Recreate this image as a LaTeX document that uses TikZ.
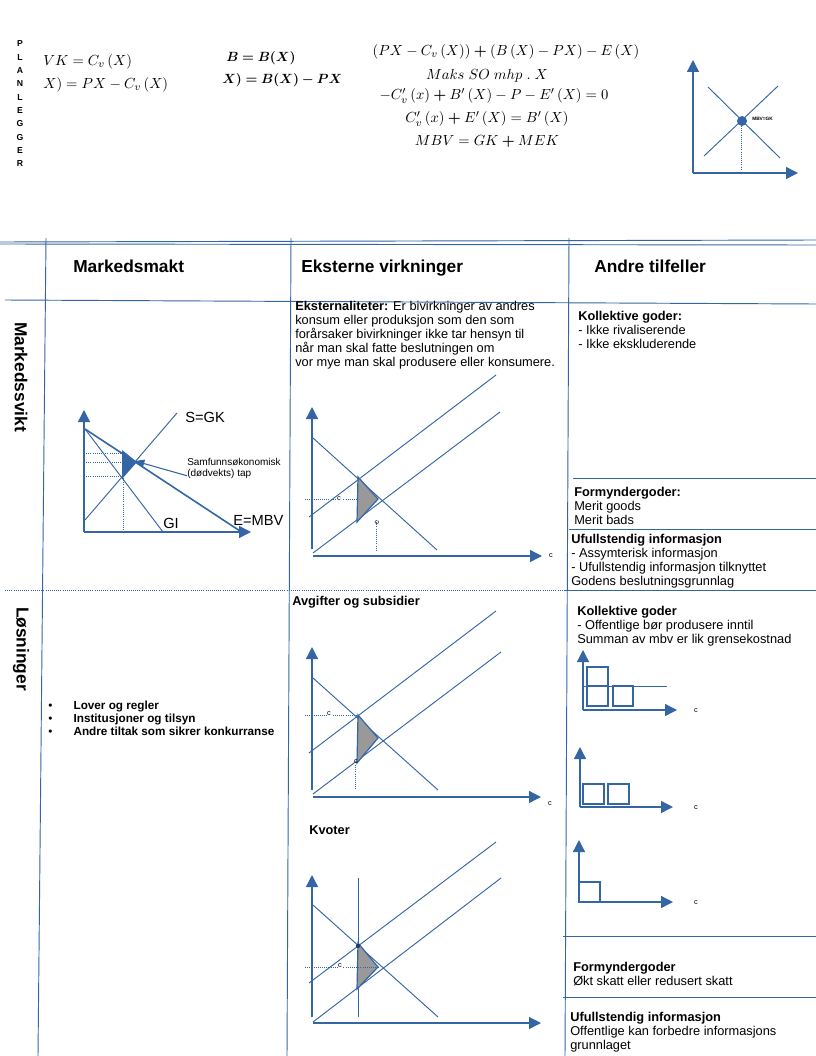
\documentclass[tikz,border=0pt]{standalone}
\usepackage{bm}
\usepackage{fontspec}
\setmainfont{Liberation Sans}
\usetikzlibrary{arrows.meta}
\definecolor{lineblue}{HTML}{3465A4}
\definecolor{tapgray}{HTML}{999999}
\tikzset{
  akse/.style={lineblue,line width=1pt,-{Triangle[length=9pt,width=9pt]}},
  kurve/.style={lineblue,line width=0.7pt},
  hjelp/.style={lineblue,densely dotted,line width=0.6pt},
  skille/.style={lineblue,line width=0.7pt},
  tap/.style={fill=tapgray,draw=lineblue,line width=0.9pt},
  boks/.style={lineblue,line width=0.8pt},
  tekst/.style={font=\fontsize{9.6}{10.5}\selectfont,inner sep=0pt,align=left,anchor=north west},
  overskrift/.style={font=\fontsize{13}{15}\selectfont\bfseries,inner sep=0pt,anchor=base west},
  formel/.style={font=\fontsize{11}{13}\selectfont,inner sep=0pt},
  kurvenavn/.style={font=\fontsize{11}{13}\selectfont,inner sep=0pt,anchor=west},
  liten/.style={font=\fontsize{5.5}{6}\selectfont,inner sep=0pt},
}
\begin{document}
\begin{tikzpicture}[x=0.75pt,y=-0.75pt]
\useasboundingbox (0,0) rectangle (816,1056);

% planlegger
\foreach \bokstav [count=\i] in {P,L,A,N,L,E,G,G,E,R}
  \node[font=\fontsize{6.5}{7}\selectfont\bfseries,inner sep=0pt] (plan\i) at (20,{44+(\i-1)*13.3}) {\bokstav};

\node[formel,anchor=west] (vk) at (43,62) {$VK=C_v\,(X)$};
\node[formel,anchor=west] (profitt) at (43,85) {$X)=PX-C_v\,(X)$};
\node[formel,anchor=west,font=\fontsize{10}{12}\selectfont] (nytte) at (226,58) {$\bm{B=B(X)}$};
\node[formel,anchor=west,font=\fontsize{10}{12}\selectfont] (overskudd) at (222,80) {$\bm{X)=B(X)-PX}$};
\node[formel] (so) at (506,52) {$(PX-C_v\,(X))\bm{+}(B\,(X)-PX)-E\,(X)$};
\node[formel] (maks) at (487,76) {$Maks\;SO\;mhp\;.\;X$};
\node[formel] (foc) at (494,96) {$-C_v'\,(x)\bm{+}B'\,(X)-P-E'\,(X)=0$};
\node[formel] (likhet) at (487,119) {$C_v'\,(x)\bm{+}E'\,(X)=B'\,(X)$};
\node[formel] (mbv) at (487,141) {$MBV=GK\bm{+}MEK$};

\draw[akse] (693,173) -- (693,60);
\draw[akse] (693,173) -- (798,173);
\draw[kurve] (708,87) -- (780,158);
\draw[kurve] (704,156) -- (778,86);
\draw[hjelp] (741,126) -- (741,170);
\fill[lineblue] (742,121) circle (3.75pt);
\node[font=\fontsize{3.6}{4}\selectfont\bfseries,anchor=west,inner sep=0pt] (likevekt) at (752,119) {MBV=GK};

% tabell
\draw[skille] (0,242) -- (816,240);
\draw[skille] (0,244) -- (816,245);
\draw[skille] (46,238) -- (38,1056);
\draw[skille] (291,238) -- (287,1056);
\draw[skille] (569,238) -- (565,1056);
\draw[skille] (5,300) -- (816,304);
\draw[hjelp] (5,590) -- (565,590);
\draw[skille] (565,590) -- (816,590);
\draw[skille] (573,478) -- (816,478);
\draw[skille] (569,529) -- (816,529);
\draw[skille] (563,936) -- (816,936);
\draw[skille] (563,997) -- (816,997);

\node[overskrift] (makt) at (73,272) {Markedsmakt};
\node[overskrift] (ekstern) at (301,272) {Eksterne virkninger};
\node[overskrift] (andre) at (594,272) {Andre tilfeller};
\node[font=\fontsize{13}{15}\selectfont\bfseries,rotate=-90,inner sep=0pt] (svikt) at (21,377) {Markedssvikt};
\node[font=\fontsize{13}{15}\selectfont\bfseries,rotate=-90,inner sep=0pt] (losning) at (21,649) {Løsninger};

% markedsmakt
\draw[akse] (84,532) -- (84,410);
\draw[akse] (84,532) -- (251,532);
\draw[kurve,line width=1.2pt] (85,429) -- (240,531);
\draw[kurve] (85,429) -- (163,532);
\draw[kurve] (85,520) -- (177,413);
\draw[hjelp] (84,453) -- (122,453);
\draw[hjelp] (84,462) -- (135,462);
\draw[hjelp] (84,476) -- (122,476);
\draw[hjelp] (123,478) -- (123,532);
\fill[lineblue] (122,450) -- (122,479) -- (137,462) -- cycle;
\node[kurvenavn] (sgk) at (185,417) {S=GK};
\node[kurvenavn] (gi) at (163,523) {GI};
\node[kurvenavn] (embv) at (233,520) {E=MBV};
\node[font=\fontsize{7.5}{8.25}\selectfont,align=left,anchor=west,inner sep=0pt] (tapnote) at (187,468) {Samfunnsøkonomisk\\(dødvekts) tap};
\draw[lineblue,line width=0.8pt,-{Triangle[length=7pt,width=6pt]}] ([yshift=2pt]tapnote.south west) -- (135,461);

\node[font=\fontsize{8.8}{9.75}\selectfont\bfseries,inner sep=0pt,align=left,anchor=north west] (tiltak) at (48,701) {\makebox[19pt][l]{\mdseries\textbullet}Lover og regler\\\makebox[19pt][l]{\mdseries\textbullet}Institusjoner og tilsyn\\\makebox[19pt][l]{\mdseries\textbullet}Andre tiltak som sikrer konkurranse};

% eksterne virkninger
\node[tekst] (ekstdef) at (295,301) {{\bfseries Eksternaliteter:} Er bivirkninger av andres\\konsum eller produksjon som den som\\forårsaker bivirkninger ikke tar hensyn til\\når man skal fatte beslutningen om\\vor mye man skal produsere eller konsumere.};
\draw[akse] (312,549) -- (312,407);
\draw[akse] (313,556) -- (542,556);
\draw[kurve] (313,438) -- (437,550);
\draw[kurve] (309,517) -- (496,375);
\draw[kurve] (313,553) -- (500,412);
\draw[tap] (358,477) -- (357,522) -- (378,499) -- cycle;
\draw[hjelp] (305,499) -- (358,499);
\draw[hjelp] (376,520) -- (376,550);
\node[liten,fill=white,inner sep=0.5pt] (c1) at (339,499) {c};
\node[liten,rotate=90] (c2) at (377,523) {c};
\node[liten] (c3) at (551,556) {c};

\node[tekst,font=\fontsize{9.6}{10.5}\selectfont\bfseries] (avgift) at (292,596) {Avgifter og subsidier};
\draw[akse] (312,790) -- (312,647);
\draw[akse] (313,797) -- (541,797);
\draw[kurve] (313,678) -- (438,790);
\draw[kurve] (309,753) -- (496,611);
\draw[kurve] (313,794) -- (501,652);
\draw[tap] (358,715) -- (357,763) -- (378,738) -- cycle;
\draw[hjelp] (305,715) -- (358,715);
\draw[hjelp] (355,765) -- (355,790);
\node[liten,fill=white,inner sep=0.5pt] (c4) at (329,714) {c};
\node[liten] (c5) at (356,762) {c};
\node[liten] (c6) at (550,804) {c};

\node[tekst,font=\fontsize{9.6}{10.5}\selectfont\bfseries] (kvote) at (309,825) {Kvoter};
\draw[akse] (312,1017) -- (312,875);
\draw[akse] (313,1023) -- (541,1023);
\draw[kurve] (358,878) -- (358,1017);
\draw[kurve] (313,905) -- (438,1017);
\draw[kurve] (309,983) -- (496,842);
\draw[kurve] (313,1022) -- (501,878);
\draw[tap] (358,943) -- (357,989) -- (378,967) -- cycle;
\fill[lineblue!60!black] (358,946) circle (1.6pt);
\draw[hjelp] (305,967) -- (378,967);
\node[liten,fill=white,inner sep=0.5pt] (c7) at (340,966) {c};

% andre tilfeller
\node[tekst] (kollgoder) at (578,311) {{\bfseries Kollektive goder:}\\- Ikke rivaliserende\\- Ikke ekskluderende};
\node[tekst] (formgoder) at (574,487) {{\bfseries Formyndergoder:}\\Merit goods\\Merit bads};
\node[tekst] (ufullinfo) at (571,534) {{\bfseries Ufullstendig informasjon}\\- Assymterisk informasjon\\- Ufullstendig informasjon tilknyttet\\Godens beslutningsgrunnlag};
\node[tekst] (kolltiltak) at (577,606) {{\bfseries Kollektive goder}\\- Offentlige bør produsere inntil\\Summan av mbv er lik grensekostnad};

\draw[akse] (583,710) -- (583,650);
\draw[akse] (583,710) -- (677,710);
\draw[boks] (587,667) rectangle (608,686);
\draw[boks] (587,686) rectangle (608,706);
\draw[boks] (613,686) rectangle (633,706);
\draw[kurve] (583,686) -- (667,686);
\node[liten] (c8) at (696,711) {c};

\draw[akse] (580,807) -- (580,747);
\draw[akse] (580,807) -- (673,807);
\draw[boks] (583,784) rectangle (604,804);
\draw[boks] (608,784) rectangle (629,804);
\node[liten] (c9) at (696,808) {c};

\draw[akse] (579,902) -- (579,840);
\draw[akse] (579,902) -- (673,902);
\draw[boks] (579,882) rectangle (600,902);
\node[liten] (c10) at (696,903) {c};

\node[tekst] (formtiltak) at (573,962) {{\bfseries Formyndergoder}\\Økt skatt eller redusert skatt};
\node[tekst] (infotiltak) at (570,1012) {{\bfseries Ufullstendig informasjon}\\Offentlige kan forbedre informasjons\\grunnlaget};
\end{tikzpicture}
\end{document}
